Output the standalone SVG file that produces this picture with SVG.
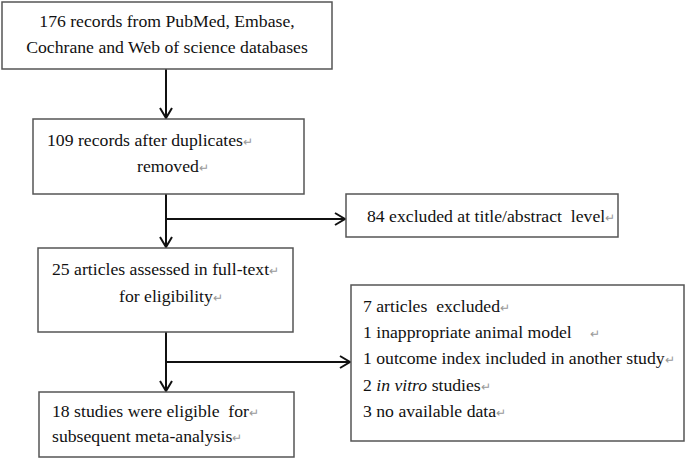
<svg xmlns="http://www.w3.org/2000/svg" width="685" height="459" viewBox="0 0 685 459">
<style>
.box{fill:#fff;stroke:#555;stroke-width:1.5}
.t{font-family:"Liberation Serif","Times New Roman",serif;font-size:17.7px;fill:#111}
.pm{fill:#999;font-size:12px}
.ln{stroke:#111;stroke-width:2;fill:none}
</style>
<defs>
<marker id="ah" markerUnits="userSpaceOnUse" markerWidth="14" markerHeight="14" refX="11" refY="7" orient="auto">
<path d="M1,1 L11,7 L1,13" fill="none" stroke="#111" stroke-width="2"/>
</marker>
</defs>
<rect width="685" height="459" fill="#fff"/>
<g id="connectors">
<line class="ln" x1="166" y1="69" x2="166" y2="118" marker-end="url(#ah)"/>
<line class="ln" x1="166" y1="194" x2="166" y2="247" marker-end="url(#ah)"/>
<line class="ln" x1="166" y1="219" x2="345" y2="219" marker-end="url(#ah)"/>
<line class="ln" x1="166" y1="332" x2="166" y2="391" marker-end="url(#ah)"/>
<line class="ln" x1="166" y1="362" x2="350" y2="362" marker-end="url(#ah)"/>
</g>
<g id="n1">
<rect class="box" x="2" y="2" width="330" height="67"/>
<text class="t" x="167" y="27" text-anchor="middle">176 records from PubMed, Embase,</text>
<text class="t" x="167" y="53" text-anchor="middle">Cochrane and Web of science databases</text>
</g>
<g id="n2">
<rect class="box" x="33" y="119" width="271" height="75"/>
<text class="t" x="47" y="146">109 records after duplicates<tspan class="pm">↵</tspan></text>
<text class="t" x="137" y="172">removed<tspan class="pm">↵</tspan></text>
</g>
<g id="n3">
<rect class="box" x="346" y="194" width="272" height="43"/>
<text class="t" x="367" y="222" xml:space="preserve">84 excluded at title/abstract  level<tspan class="pm">↵</tspan></text>
</g>
<g id="n4">
<rect class="box" x="38" y="248" width="255" height="84"/>
<text class="t" x="52" y="275">25 articles assessed in full-text<tspan class="pm">↵</tspan></text>
<text class="t" x="119" y="302">for eligibility<tspan class="pm">↵</tspan></text>
</g>
<g id="n5">
<rect class="box" x="351" y="285" width="333" height="156"/>
<text class="t" x="363" y="312" xml:space="preserve">7 articles  excluded<tspan class="pm">↵</tspan></text>
<text class="t" x="363" y="338">1 inappropriate animal model<tspan class="pm" x="590">↵</tspan></text>
<text class="t" x="363" y="364">1 outcome index included in another study<tspan class="pm">↵</tspan></text>
<text class="t" x="363" y="391">2 <tspan font-style="italic">in vitro</tspan> studies<tspan class="pm">↵</tspan></text>
<text class="t" x="363" y="417">3 no available data<tspan class="pm">↵</tspan></text>
</g>
<g id="n6">
<rect class="box" x="39" y="392" width="255" height="65"/>
<text class="t" x="52" y="417" xml:space="preserve">18 studies were eligible  for<tspan class="pm">↵</tspan></text>
<text class="t" x="52" y="442">subsequent meta-analysis<tspan class="pm">↵</tspan></text>
</g>
</svg>
